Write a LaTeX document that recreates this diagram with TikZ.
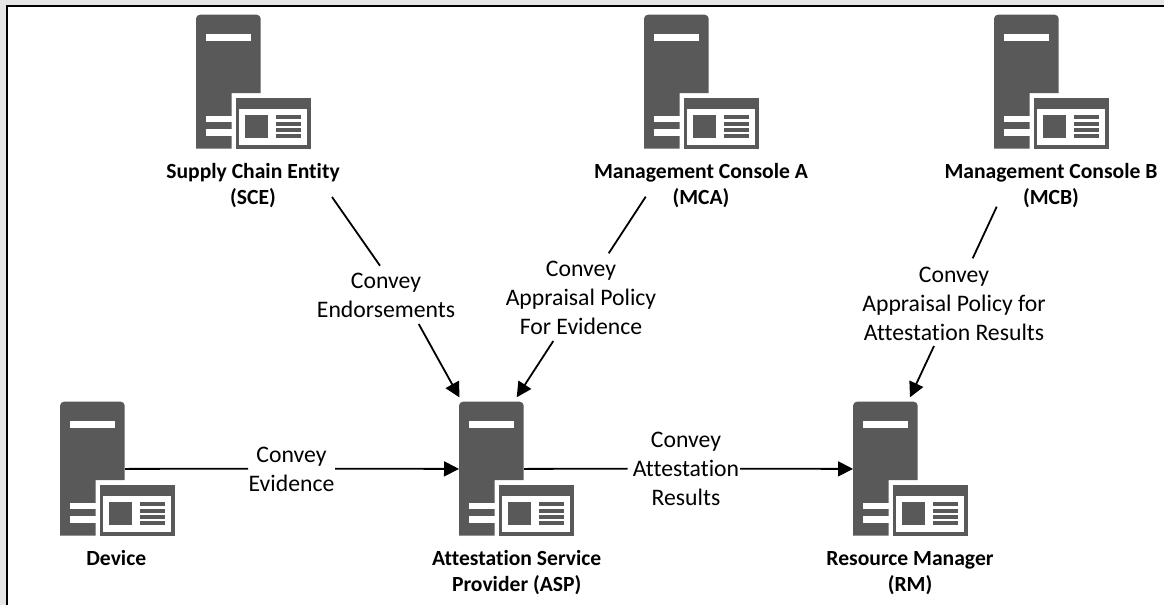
\documentclass[tikz,border=0pt]{standalone}
\usepackage{fontspec}
\setmainfont[Ligatures=NoCommon]{Carlito}
\usetikzlibrary{arrows.meta}
\definecolor{srv}{RGB}{89,89,89}
\definecolor{margin}{RGB}{230,230,230}
\tikzset{
  x=1pt,y=-1pt,
  conn/.style={line width=1.8pt,black},
  arr/.style={conn,-{Triangle[length=15pt,width=15pt]}},
  lab/.style={align=center,font=\fontsize{23.7}{29.2}\selectfont,inner sep=0pt},
  name lab/.style={align=center,font=\bfseries\fontsize{21.6}{26}\selectfont,inner sep=0pt},
  anchorbox/.style={minimum width=64.7pt,minimum height=134pt,inner sep=0pt,anchor=north west},
  pics/server/.style={code={
    \fill[srv] (0,134) -- (0,4) arc[start angle=180,end angle=90,radius=4pt] -- (60.7,0) arc[start angle=90,end angle=0,radius=4pt] -- (64.7,78.3) -- (35.7,78.3) -- (35.7,134) -- cycle;
    \fill[white] (9.7,19.6) rectangle (55,26);
    \fill[white] (9.7,101) rectangle (35.7,107.6);
    \fill[white] (9.7,114.3) rectangle (35.7,121);
    \fill[srv] (40.3,83.3) rectangle (115,134);
    \fill[white] (42.7,94) rectangle (111,130);
    \fill[srv] (49,100.3) rectangle (72,123.3);
    \fill[srv] (80,100.3) rectangle (105,104.3);
    \fill[srv] (80,107) rectangle (105,111);
    \fill[srv] (80,113.7) rectangle (105,117.7);
    \fill[srv] (80,119.5) rectangle (105,123.3);
  }}
}
\begin{document}
\begin{tikzpicture}
\useasboundingbox (0,0) rectangle (1164,605);
\fill[margin] (0,0) rectangle (1164,605);
\fill[white] (7,6) rectangle (1164,605);
\draw[line width=2pt,black] (7,605) -- (7,6) -- (1164,6);
% icons
\pic at (196,14.7) {server};
\pic at (644,14.7) {server};
\pic at (994,14.7) {server};
\pic at (60,401.7) {server};
\pic at (459,401.7) {server};
\pic at (853,401.7) {server};
% anchors on icons
\node[anchorbox] (device) at (60,401.7) {};
\node[anchorbox] (asp) at (459,401.7) {};
\node[anchorbox] (rm) at (853,401.7) {};
% names
\node[name lab] (sce) at (253,186) {Supply Chain Entity\\(SCE)};
\node[name lab] (mca) at (701,186) {Management Console A\\(MCA)};
\node[name lab] (mcb) at (1051,186) {Management Console B\\(MCB)};
\node[name lab] (devn) at (116.3,558) {Device};
\node[name lab] (aspn) at (516.7,573) {Attestation Service\\Provider (ASP)};
\node[name lab] (rmn) at (910,573) {Resource Manager\\(RM)};
% labels
\node[lab] (l1) at (386,295.5) {Convey\\Endorsements};
\node[lab] (l2) at (581,298) {Convey\\Appraisal Policy\\For Evidence};
\node[lab] (l3) at (954,304) {Convey\\Appraisal Policy for\\Attestation Results};
\node[lab] (l4) at (291.5,469.5) {Convey\\Evidence};
\node[lab] (l5) at (686,469) {Convey\\Attestation\\Results};
% coordinates at free ends
\coordinate (c1a) at (332,197);
\coordinate (c1b) at (380,265.7);
\coordinate (c1c) at (418.7,324);
\coordinate (c1d) at (459.5,397.5);
\coordinate (c2a) at (645.7,196.7);
\coordinate (c2b) at (608.7,253.3);
\coordinate (c2c) at (553.3,341);
\coordinate (c2d) at (516.7,397.3);
\coordinate (c3a) at (996.7,206.7);
\coordinate (c3b) at (972.7,258.3);
\coordinate (c3c) at (934,346);
\coordinate (c3d) at (910,397.3);
\coordinate (c4a) at (248,468.7);
\coordinate (c4b) at (335,468.7);
\coordinate (c5a) at (627.5,468.7);
\coordinate (c5b) at (740,468.7);
% connectors
\draw[conn] (c1a) -- (c1b);
\draw[arr] (c1c) -- (c1d);
\draw[conn] (c2a) -- (c2b);
\draw[arr] (c2c) -- (c2d);
\draw[conn] (c3a) -- (c3b);
\draw[arr] (c3c) -- (c3d);
\draw[conn] (device.east) -- (c4a);
\draw[arr] (c4b) -- (asp.west);
\draw[conn] (asp.east) -- (c5a);
\draw[arr] (c5b) -- (rm.west);
\end{tikzpicture}
\end{document}
